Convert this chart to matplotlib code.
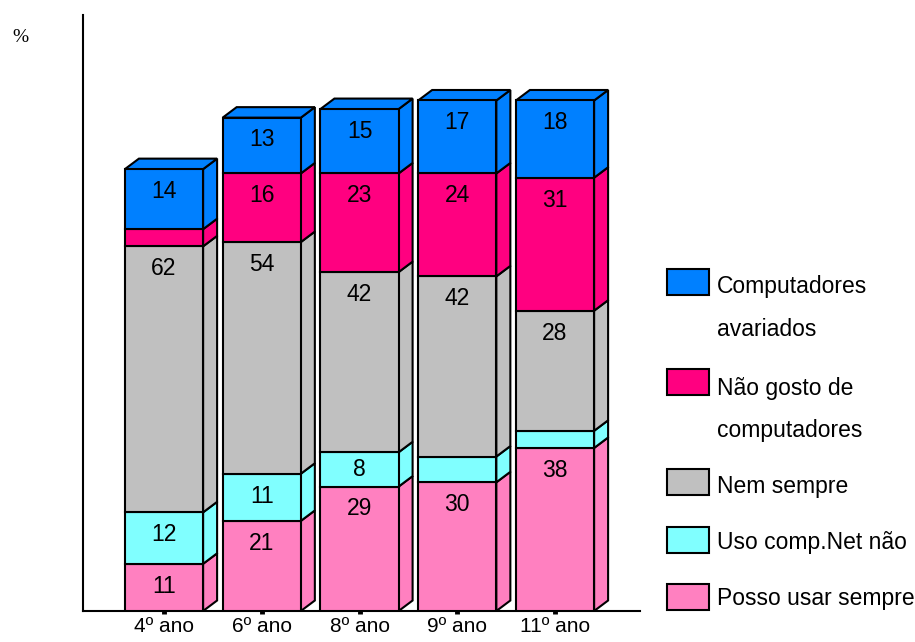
import numpy as np
import matplotlib.pyplot as plt
from matplotlib.patches import Polygon, Rectangle

plt.rcParams['font.family'] = ['Liberation Sans', 'DejaVu Sans']

years = ['4º ano', '6º ano', '8º ano', '9º ano', '11º ano']
series = ['Posso usar sempre', 'Uso comp.Net não', 'Nem sempre',
          'Não gosto de\ncomputadores', 'Computadores\navariados']
posso = [11, 21, 29, 30, 38]
uso_net = [12, 11, 8, 6, 4]
nem_sempre = [62, 54, 42, 42, 28]
nao_gosto = [4, 16, 23, 24, 31]
avariados = [14, 13, 15, 17, 18]
colors = ['#FF80C0', '#80FFFF', '#C0C0C0', '#FF0080', '#0080FF']

W, H = 915, 642
fig = plt.figure(figsize=(W / 100, H / 100), dpi=100)

# axes placed in pixel terms of the reference
ax_l, ax_r, ax_t, ax_b = 83, 640, 15, 611
ax = fig.add_axes([ax_l / W, 1 - ax_b / H, (ax_r - ax_l) / W, (ax_b - ax_t) / H])
px_x = 97.75          # pixels per category step
px_y = 4.29           # pixels per percent
ax.set_xlim((ax_l - 164) / px_x, (ax_r - 164) / px_x)
ax.set_ylim(0, (ax_b - ax_t) / px_y)

width = 0.8
dx = 14 / px_x
dy = 10.5 / px_y
fs = 16.5

data = np.array([posso, uso_net, nem_sempre, nao_gosto, avariados])
x = np.arange(len(years))
for i in x:
    bottom = 0
    x0, x1 = i - width / 2, i + width / 2
    for k in range(len(data)):
        v = data[k, i]
        top = bottom + v
        ax.add_patch(Rectangle((x0, bottom), width, v, facecolor=colors[k],
                               edgecolor='black', lw=1.5, zorder=3))
        ax.add_patch(Polygon([(x1, bottom), (x1 + dx, bottom + dy),
                              (x1 + dx, top + dy), (x1, top)],
                             facecolor=colors[k], edgecolor='black', lw=1.5,
                             joinstyle='miter', zorder=2))
        if k == len(data) - 1:
            ax.add_patch(Polygon([(x0, top), (x0 + dx, top + dy),
                                  (x1 + dx, top + dy), (x1, top)],
                                 facecolor=colors[k], edgecolor='black', lw=1.5,
                                 joinstyle='miter', zorder=2))
        if v >= 8:
            ax.text(i, top - min(v / 2, 5.2), str(v), ha='center', va='center',
                    fontsize=fs, zorder=4)
        bottom = top

for s in ['top', 'right']:
    ax.spines[s].set_visible(False)
for s in ['left', 'bottom']:
    ax.spines[s].set_linewidth(1.5)
ax.set_yticks([])
ax.set_xticks(x)
ax.set_xticklabels(years, fontsize=15)
ax.tick_params(axis='x', length=2.5, width=3.5, pad=2)

fig.text(12 / W, 1 - 37 / H, '%', fontsize=14, family='Liberation Serif',
         va='center', ha='left')

# legend, top entry first
leg = [(4, 269, [287, 330]), (3, 369, [388, 430]), (2, 469, [487]),
       (1, 527, [543]), (0, 584, [598])]
for k, ytop, ylines in leg:
    fig.patches.append(Rectangle((667 / W, 1 - (ytop + 26) / H), 42 / W, 26 / H,
                                 transform=fig.transFigure, facecolor=colors[k],
                                 edgecolor='black', lw=1.5))
    for line, yy in zip(series[k].split('\n'), ylines):
        fig.text(717 / W, 1 - yy / H, line, fontsize=fs, va='center', ha='left')

fig.savefig('out.png', dpi=100)
